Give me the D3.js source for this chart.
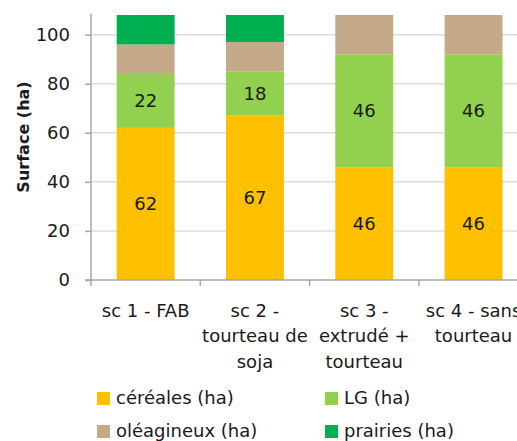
<!DOCTYPE html>
<html>
<head>
<meta charset="utf-8">
<script src="https://cdn.jsdelivr.net/npm/d3@7"></script>
<style>
  body { margin: 0; background: #fff; }
  text { font-family: "DejaVu Sans", sans-serif; fill: #1a1a1a; }
</style>
</head>
<body>
<svg id="chart" width="517" height="441"></svg>
<script>
// data
const categories = [["sc 1 - FAB"], ["sc 2 -", "tourteau de", "soja"], ["sc 3 -", "extrudé +", "tourteau"], ["sc 4 - sans", "tourteau"]];
const cereales = [62, 67, 46, 46];
const lg = [22, 18, 46, 46];
const oleagineux = [12, 12, 16, 16];
const prairies = [12, 11, 0, 0];
const seriesNames = ["céréales (ha)", "LG (ha)", "oléagineux (ha)", "prairies (ha)"];
const yTicks = [0, 20, 40, 60, 80, 100];

const colors = ["#FFC000", "#92D050", "#C4AA88", "#00B050"];
const labelled = [true, true, false, false];

const svg = d3.select("#chart");
const marginLeft = 91, plotTop = 15, plotBottom = 280;
const step = 109.3;
const FONT = 18;

// scales
const x = d3.scaleBand()
  .domain(d3.range(categories.length))
  .range([marginLeft, marginLeft + step * categories.length])
  .paddingInner(0.47).paddingOuter(0.235);
const y = d3.scaleLinear().domain([0, 108]).range([plotBottom, plotTop]);

// grid lines
svg.append("g").selectAll("line")
  .data(yTicks.filter(d => d > 0))
  .join("line")
  .attr("x1", marginLeft).attr("x2", 517)
  .attr("y1", d => y(d)).attr("y2", d => y(d))
  .attr("stroke", "#dcdcdc").attr("stroke-width", 1.5);

// stacked bars
const rows = categories.map((c, i) => ({ i, c: cereales[i], l: lg[i], o: oleagineux[i], p: prairies[i] }));
const stack = d3.stack().keys(["c", "l", "o", "p"])(rows);
stack.forEach((layer, k) => {
  const g = svg.append("g");
  g.selectAll("rect")
    .data(layer)
    .join("rect")
    .attr("x", d => x(d.data.i))
    .attr("width", x.bandwidth())
    .attr("y", d => y(d[1]))
    .attr("height", d => y(d[0]) - y(d[1]))
    .attr("fill", colors[k]);
  if (labelled[k]) {
    g.selectAll("text")
      .data(layer)
      .join("text")
      .attr("x", d => x(d.data.i) + x.bandwidth() / 2)
      .attr("y", d => y((d[0] + d[1]) / 2))
      .attr("dy", "0.36em")
      .attr("text-anchor", "middle")
      .attr("font-size", FONT)
      .text(d => d[1] - d[0]);
  }
});

// y axis
const yAxis = svg.append("g")
  .attr("transform", `translate(${marginLeft},0)`)
  .call(d3.axisLeft(y).tickValues(yTicks).tickSize(6).tickPadding(15));
yAxis.select(".domain").attr("stroke", "#a6a6a6").attr("stroke-width", 1.5).attr("d", `M-6,${plotBottom}H0V${plotTop - 1}`);
yAxis.selectAll(".tick line").attr("stroke", "#a6a6a6").attr("stroke-width", 1.5);
yAxis.selectAll(".tick text").attr("font-size", FONT).style("font-family", "'DejaVu Sans', sans-serif").attr("fill", "#1a1a1a");

// x axis baseline and ticks
svg.append("line")
  .attr("x1", marginLeft).attr("x2", 517)
  .attr("y1", plotBottom).attr("y2", plotBottom)
  .attr("stroke", "#a6a6a6").attr("stroke-width", 1.5);
svg.append("g").selectAll("line")
  .data(d3.range(categories.length + 1))
  .join("line")
  .attr("x1", d => marginLeft + d * step).attr("x2", d => marginLeft + d * step)
  .attr("y1", plotBottom).attr("y2", plotBottom + 6)
  .attr("stroke", "#a6a6a6").attr("stroke-width", 1.5);

// category labels
svg.append("g").selectAll("text")
  .data(categories)
  .join("text")
  .attr("x", (d, i) => x(i) + x.bandwidth() / 2)
  .attr("y", 316.5)
  .attr("text-anchor", "middle")
  .attr("font-size", FONT)
  .each(function (lines) {
    d3.select(this).selectAll("tspan")
      .data(lines)
      .join("tspan")
      .attr("x", d3.select(this).attr("x"))
      .attr("dy", (d, j) => j === 0 ? 0 : 25.5)
      .text(d => d);
  });

// y title
svg.append("text")
  .attr("transform", "translate(29,137) rotate(-90)")
  .attr("text-anchor", "middle")
  .attr("font-size", 16)
  .attr("font-weight", "bold")
  .text("Surface (ha)");

// legend
const legend = svg.append("g").selectAll("g")
  .data(seriesNames)
  .join("g")
  .attr("transform", (d, i) => `translate(${i % 2 === 0 ? 97 : 325},${i < 2 ? 398 : 431})`);
legend.append("rect")
  .attr("y", -6).attr("width", 13).attr("height", 13)
  .attr("fill", (d, i) => colors[i]);
legend.append("text")
  .attr("x", 19).attr("dy", "0.36em")
  .attr("font-size", FONT)
  .text(d => d);
</script>
</body>
</html>
